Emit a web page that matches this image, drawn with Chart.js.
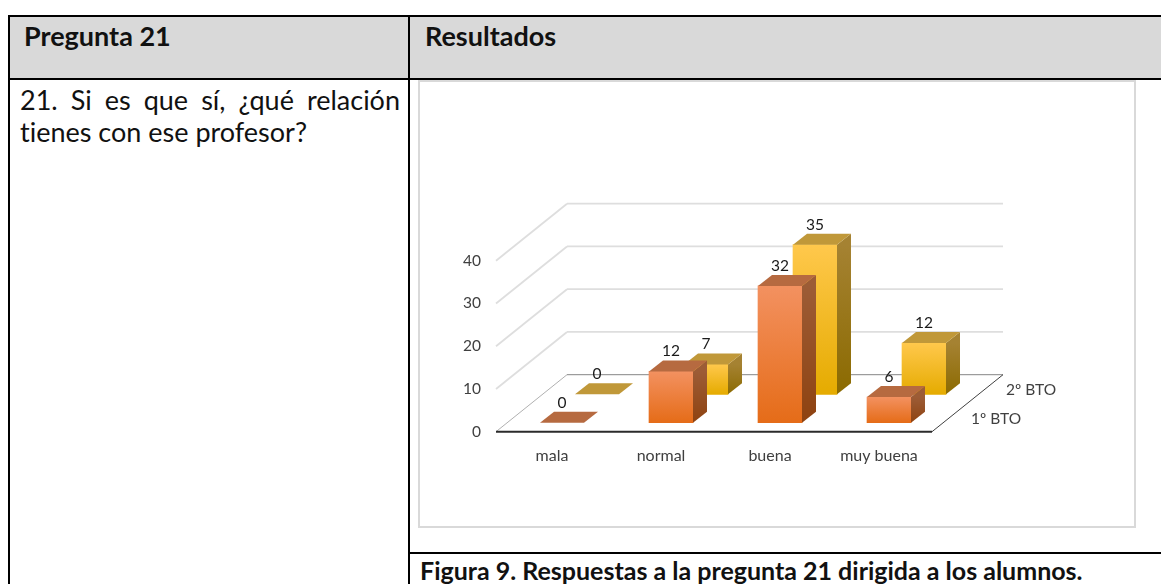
<!DOCTYPE html>
<html lang="es">
<head>
    <meta charset="UTF-8">
    <title>Pregunta 21</title>
    <script src="https://cdn.jsdelivr.net/npm/chart.js@4/dist/chart.umd.min.js"></script>
    <style>
        html, body {
            margin: 0;
            width: 1161px;
            height: 584px;
            overflow: hidden;
            background-color: #fff;
            font-family: Lato, sans-serif;
            font-variant-ligatures: none;
            color: #111;
        }

        .box {
            position: absolute;
        }

        .line {
            position: absolute;
            background-color: #000;
        }

        .head {
            position: absolute;
            top: 20px;
            font-size: 27px;
            line-height: 32px;
            font-weight: 700;
        }

        .question {
            position: absolute;
            left: 20px;
            top: 84px;
            width: 380px;
            font-size: 27px;
            line-height: 32px;
            text-align: justify;
        }

        .caption {
            position: absolute;
            left: 420px;
            top: 555px;
            font-size: 25px;
            line-height: 30px;
            font-weight: 700;
            white-space: nowrap;
        }

        .frame {
            position: absolute;
            left: 418px;
            top: 80px;
            width: 714px;
            height: 444px;
            border: 2px solid #d9d9d9;
        }

        #chart {
            position: absolute;
            left: 419px;
            top: 82px;
        }
    </style>
</head>
<body>
<div class="box" style="left:10px;top:17px;width:1151px;height:61px;background-color:#d9d9d9"></div>
<div class="line" style="left:8px;top:15px;width:1153px;height:2px"></div>
<div class="line" style="left:8px;top:78px;width:1153px;height:2px"></div>
<div class="line" style="left:8px;top:15px;width:2px;height:569px"></div>
<div class="line" style="left:408px;top:15px;width:2px;height:569px"></div>
<div class="line" style="left:408px;top:552px;width:753px;height:2px"></div>
<div class="head" style="left:24px">Pregunta 21</div>
<div class="head" style="left:425px">Resultados</div>
<div class="question">21. Si es que sí, ¿qué relación tienes con ese profesor?</div>
<div class="frame"></div>
<canvas id="chart" width="714" height="442"></canvas>
<div class="caption">Figura 9. Respuestas a la pregunta 21 dirigida a los alumnos.</div>
<script>
    var categories = ["mala", "normal", "buena", "muy buena"];
    var seriesNames = ["1º BTO", "2º BTO"];
    var bto1 = [0, 12, 32, 6];
    var bto2 = [0, 7, 35, 12];

    // fake 3d: how far the back wall sits and where each row of bars stands
    var WALL = {x: 71, y: -57};
    var BAR_DEPTH = {x: 14, y: -11};
    var LABEL_SIZE = 15.5;
    var LABEL_FONT = LABEL_SIZE + "px Lato, sans-serif";

    var COLORS = [
        {light: "#f39160", dark: "#e56c18", sideLight: "#9c5c36", sideDark: "#8e4210", top: "#b66a40"},
        {light: "#ffc84c", dark: "#e5ab00", sideLight: "#a58232", sideDark: "#8b6a00", top: "#c09839"}
    ];

    function rowOffset(i) {
        return {x: 11.5 + 35 * i, y: -9 - 28.4 * i};
    }

    function frontFill(context) {
        var chart = context.chart;
        var c = COLORS[context.datasetIndex];
        if (!chart.scales.y || !context.parsed) {
            return c.dark;
        }
        var top = chart.scales.y.getPixelForValue(context.parsed.y);
        var base = chart.scales.y.getPixelForValue(0);
        // scales have no size yet the first time this is asked
        if (!isFinite(top) || !isFinite(base)) {
            return c.dark;
        }
        var g = chart.ctx.createLinearGradient(0, top, 0, base);
        g.addColorStop(0, c.light);
        g.addColorStop(1, c.dark);
        return g;
    }

    function line(ctx, x1, y1, x2, y2, color, width) {
        ctx.strokeStyle = color;
        ctx.lineWidth = width;
        ctx.beginPath();
        ctx.moveTo(x1, y1);
        ctx.lineTo(x2, y2);
        ctx.stroke();
    }

    function poly(ctx, pts, fill) {
        ctx.fillStyle = fill;
        ctx.beginPath();
        ctx.moveTo(pts[0][0], pts[0][1]);
        for (var i = 1; i < pts.length; i++) {
            ctx.lineTo(pts[i][0], pts[i][1]);
        }
        ctx.closePath();
        ctx.fill();
    }

    var depthPlugin = {
        id: "depth",
        beforeDatasetsDraw: function (chart) {
            var ctx = chart.ctx;
            var area = chart.chartArea;
            var yScale = chart.scales.y;
            ctx.save();
            yScale.ticks.forEach(function (t) {
                if (t.value === 0) {
                    return;
                }
                var y = yScale.getPixelForValue(t.value);
                line(ctx, area.left, y, area.left + WALL.x, y + WALL.y, "#dedede", 1.8);
                line(ctx, area.left + WALL.x, y + WALL.y, area.right + WALL.x, y + WALL.y, "#dedede", 1.8);
            });
            // floor
            var y0 = yScale.getPixelForValue(0);
            line(ctx, area.left, y0, area.left + WALL.x, y0 + WALL.y, "#b0b0b0", 1);
            line(ctx, area.left + WALL.x, y0 + WALL.y, area.right + WALL.x, y0 + WALL.y, "#868686", 1);
            line(ctx, area.right, y0, area.right + WALL.x, y0 + WALL.y, "#404040", 1);
            line(ctx, area.left, y0, area.right, y0, "#2b2b2b", 2);
            // series names on the depth axis
            ctx.fillStyle = "#404040";
            ctx.font = LABEL_FONT;
            ctx.textAlign = "left";
            ctx.textBaseline = "middle";
            seriesNames.forEach(function (name, i) {
                var off = rowOffset(i);
                ctx.fillText(name, area.right + off.x + 27.5, y0 + off.y - 4);
            });
            ctx.restore();
        },
        beforeDatasetDraw: function (chart, args) {
            var off = rowOffset(args.index);
            chart.ctx.save();
            chart.ctx.translate(off.x, off.y);
        },
        afterDatasetDraw: function (chart, args) {
            var ctx = chart.ctx;
            var c = COLORS[args.index];
            var values = chart.data.datasets[args.index].data;
            args.meta.data.forEach(function (bar, n) {
                var p = bar.getProps(["x", "y", "base", "width"], true);
                var l = p.x - p.width / 2;
                var r = p.x + p.width / 2;
                var side = ctx.createLinearGradient(0, p.y, 0, p.base + 1);
                side.addColorStop(0, c.sideLight);
                side.addColorStop(1, c.sideDark);
                poly(ctx, [[r, p.y], [r + BAR_DEPTH.x, p.y + BAR_DEPTH.y], [r + BAR_DEPTH.x, p.base + BAR_DEPTH.y], [r, p.base]], side);
                poly(ctx, [[l, p.y], [l + BAR_DEPTH.x, p.y + BAR_DEPTH.y], [r + BAR_DEPTH.x, p.y + BAR_DEPTH.y], [r, p.y]], c.top);
                ctx.fillStyle = "#1a1a1a";
                ctx.font = LABEL_FONT;
                ctx.textAlign = "center";
                ctx.textBaseline = "middle";
                ctx.fillText(values[n], p.x, p.y - 20);
            });
            ctx.restore();
        }
    };

    new Chart(document.getElementById("chart"), {
        type: "bar",
        data: {
            labels: categories,
            datasets: [
                {label: seriesNames[0], data: bto1, backgroundColor: frontFill, clip: false},
                {label: seriesNames[1], data: bto2, backgroundColor: frontFill, clip: false}
            ]
        },
        options: {
            responsive: false,
            animation: false,
            layout: {
                autoPadding: false,
                padding: {left: 17, right: 201, top: 178.7, bottom: 58.3}
            },
            plugins: {
                legend: {display: false},
                tooltip: {enabled: false}
            },
            datasets: {
                bar: {grouped: false, barThickness: 44}
            },
            scales: {
                x: {
                    grid: {display: false, drawTicks: false},
                    border: {display: false},
                    afterFit: function (scale) {
                        scale.height = 34;
                    },
                    ticks: {
                        padding: 15,
                        labelOffset: 1.5,
                        maxRotation: 0,
                        autoSkip: false,
                        color: "#404040",
                        font: {family: "Lato, sans-serif", size: 16}
                    }
                },
                y: {
                    min: 0,
                    max: 40,
                    grid: {display: false, drawTicks: false},
                    border: {display: false},
                    afterFit: function (scale) {
                        scale.width = 60;
                    },
                    ticks: {
                        stepSize: 10,
                        padding: 15,
                        color: "#404040",
                        font: {family: "Lato, sans-serif", size: LABEL_SIZE}
                    }
                }
            }
        },
        plugins: [depthPlugin]
    });
</script>
</body>
</html>
